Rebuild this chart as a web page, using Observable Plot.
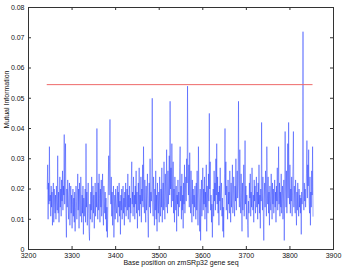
<!DOCTYPE html>
<html><head><meta charset="utf-8">
<script src="https://cdn.jsdelivr.net/npm/d3@7"></script>
<script src="https://cdn.jsdelivr.net/npm/@observablehq/plot@0.6"></script>
<style>body{margin:0;background:#fff}</style>
</head><body><div id="chart"></div>
<script>
// Base positions start here, one value per base (values in units of 0.001)
const startBase = 3243;
const mutualInfo = [
 20,28,10,22,15,34,16,18,11,21,14,19,8,17,22,9,20,15,12,18,
 10,21,16,13,31,12,19,9,17,24,14,20,11,23,16,26,13,21,18,38,
 15,25,35,12,4,20,14,23,17,10,19,22,8,16,21,12,18,7,15,20,
 11,17,9,19,6,14,21,16,10,18,25,13,20,7,22,15,11,24,16,9,
 18,12,21,5,17,11,15,20,9,35,14,19,8,16,22,12,6,3,15,10,
 19,13,24,9,17,21,12,18,7,15,22,11,19,14,40,16,10,22,13,25,
 17,9,20,14,23,11,18,25,13,8,21,16,12,19,10,17,6,14,4,12,
 22,31,18,29,43,20,15,24,11,19,8,16,21,4,13,18,10,20,15,12,
 17,21,9,19,14,22,11,16,5,18,13,20,10,15,21,12,17,8,19,14,
 22,11,16,20,13,25,10,18,14,21,9,17,12,23,29,15,19,11,24,14,
 18,10,21,15,26,12,19,7,16,22,13,27,11,18,15,24,9,20,16,28,
 14,34,19,12,23,16,9,21,13,18,25,11,4,17,22,14,30,12,19,16,
 21,50,15,11,24,17,8,20,13,26,10,18,6,22,15,12,19,9,24,16,
 11,20,14,27,9,18,22,13,29,16,10,25,19,14,33,17,12,26,15,21,
 31,18,49,20,27,14,35,22,16,29,12,20,9,24,17,13,21,6,18,15,
 23,11,19,14,27,34,16,21,10,25,13,18,7,22,15,28,12,19,24,16,
 30,22,54,25,18,28,14,32,20,12,26,17,9,23,15,20,11,18,14,21,
 16,10,22,13,26,17,8,34,19,14,6,20,3,15,23,11,18,27,13,20,
 15,24,10,19,14,28,6,21,17,12,25,16,45,20,29,13,18,9,15,4,
 14,20,11,26,16,22,13,30,18,35,15,24,12,19,8,21,16,27,13,18,
 22,11,17,6,14,4,19,25,40,18,29,13,21,16,10,23,15,19,12,26,
 17,9,22,14,19,28,12,18,24,15,11,21,16,30,13,20,26,17,22,49,
 20,14,33,18,12,25,16,6,22,13,19,28,11,17,36,15,21,10,18,14,
 8,4,16,12,22,17,25,11,19,14,27,20,13,18,9,23,16,21,12,17,
 24,14,19,10,22,15,28,12,18,7,20,16,42,19,13,24,11,3,17,22,
 14,26,18,11,34,20,15,24,12,19,8,21,16,13,25,18,10,22,15,20,
 12,17,23,14,19,9,21,16,27,13,18,34,15,22,11,19,14,25,12,17,
 21,10,16,23,3,18,39,20,14,26,12,19,35,17,42,22,15,28,12,20,
 16,24,11,19,28,39,14,21,17,12,23,15,8,19,13,22,16,11,20,14,
 18,12,17,5,19,15,21,72,18,13,22,16,20,14,19,25,36,17,28,21,
 33,16,12,24,8,19,14,26,18,34,11
];
const threshold = 0.0545;
const thresholdRange = [3243, 3853];
const xTicks = [3200, 3300, 3400, 3500, 3600, 3700, 3800, 3900];
const yTicks = [0, 0.01, 0.02, 0.03, 0.04, 0.05, 0.06, 0.07, 0.08];
const xLabel = "Base position on zmSRp32 gene seq";
const yLabel = "Mutual Information";

const data = mutualInfo.map((v, i) => ({base: startBase + i, mi: v / 1000}));

const W = 346, H = 269, mt = 7, mb = 20, ml = 28, mr = 13;
const fh = H - mt - mb, fw = W - ml - mr;
const axisColor = "#333";

const chart = Plot.plot({
  width: W, height: H,
  marginTop: mt, marginBottom: mb, marginLeft: ml, marginRight: mr,
  style: {fontFamily: "Liberation Sans, Arial, sans-serif", fontSize: "7px", background: "#fff", color: "#111"},
  x: {domain: [3200, 3900]},
  y: {domain: [0, 0.08]},
  marks: [
    Plot.line(data, {x: "base", y: "mi", stroke: "#1a33ff", strokeWidth: 0.5, strokeOpacity: 0.9}),
    Plot.ruleY([threshold], {x1: thresholdRange[0], x2: thresholdRange[1], stroke: "#ee6a6a", strokeWidth: 1}),
    Plot.frame({stroke: axisColor, strokeWidth: 1}),
    Plot.axisX(xTicks, {tickSize: 0, tickPadding: 4, tickFormat: d => String(d), label: null}),
    Plot.axisY(yTicks, {tickSize: 0, tickPadding: 4, tickFormat: d => d === 0 ? "0" : d.toFixed(2), label: null}),
    Plot.ruleX(xTicks, {x: d => d, insetTop: fh - 3, stroke: axisColor}),
    Plot.ruleX(xTicks, {x: d => d, insetBottom: fh - 3, stroke: axisColor}),
    Plot.ruleY(yTicks, {y: d => d, insetRight: fw - 3, stroke: axisColor}),
    Plot.ruleY(yTicks, {y: d => d, insetLeft: fw - 3, stroke: axisColor}),
    Plot.text([xLabel], {frameAnchor: "bottom", dy: 15, text: d => d, fontSize: 7}),
    Plot.text([yLabel], {frameAnchor: "left", dx: -22, rotate: -90, text: d => d, fontSize: 7})
  ]
});
document.getElementById("chart").appendChild(chart);
</script>
</body></html>
